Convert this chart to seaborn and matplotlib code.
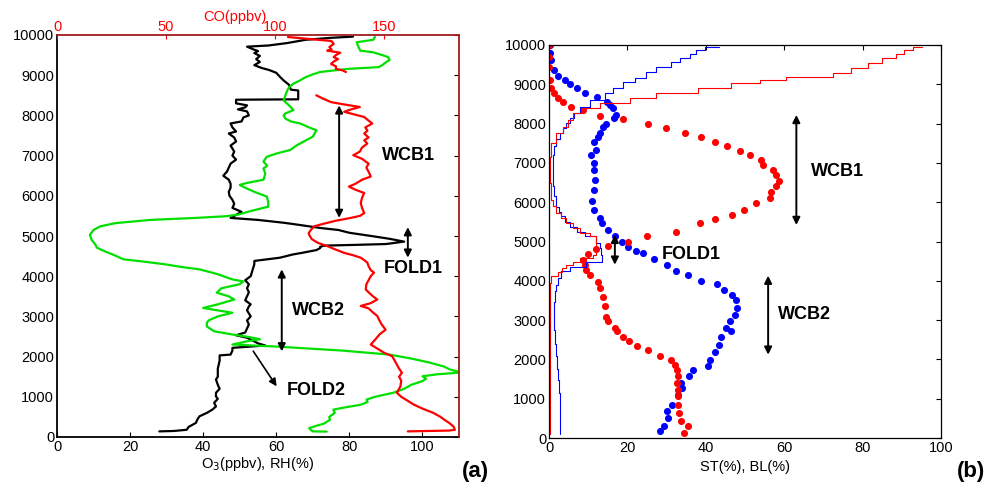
import numpy as np
import pandas as pd
import matplotlib
matplotlib.use("Agg")
import matplotlib.pyplot as plt
import seaborn as sns

sns.set_style("white")
plt.rcParams['font.family'] = ['Liberation Sans', 'DejaVu Sans']
plt.rcParams['xtick.direction'] = 'in'
plt.rcParams['ytick.direction'] = 'in'
plt.rcParams['text.color'] = 'black'
plt.rcParams['axes.labelcolor'] = 'black'
plt.rcParams['xtick.color'] = 'black'
plt.rcParams['ytick.color'] = 'black'

# ---------------- panel (a): O3, RH (bottom axis) and CO (top axis) ----------------
o3_alt = [9960, 9930, 9880, 9800, 9740, 9710, 9650, 9600, 9550, 9480, 9400, 9330, 9250, 9180,
          9130, 9060, 8960, 8870, 8760, 8640, 8620, 8400, 8390, 8300, 8250, 8200, 8150, 8100,
          8000, 7950, 7850, 7800, 7700, 7600, 7550, 7450, 7350, 7250, 7100, 7000, 6900, 6800,
          6700, 6600, 6500, 6400, 6300, 6200, 6100, 6000, 5900, 5800, 5700, 5600, 5500, 5450,
          5400, 5330, 5280, 5200, 5150, 5080, 5000, 4930, 4860, 4800, 4780, 4760, 4730, 4700,
          4650, 4580, 4540, 4460, 4420, 4380, 4300, 4150, 4000, 3900, 3800, 3700, 3600, 3500,
          3400, 3300, 3250, 3150, 3000, 2900, 2800, 2700, 2600, 2530, 2470, 2400, 2330, 2275,
          2250, 2218, 2150, 2050, 2030, 1900, 1700, 1500, 1430, 1300, 1200, 1100, 1010, 950,
          850, 760, 680, 600, 515, 450, 350, 250, 180, 150, 140]
o3_val = [81, 75, 68, 63, 58, 52, 53.5, 55, 54, 55.5, 54.5, 55.5, 54, 56,
          58, 60, 61, 62, 63.5, 64, 66, 66, 49, 49, 52, 51.5, 49.5, 52,
          52.5, 51, 50.5, 47.5, 48, 49, 47, 48.5, 49, 47.5, 48.5, 48, 49, 47.5,
          47, 46.5, 45.5, 47, 47.5, 47.5, 47, 47.2, 48, 48.5, 48, 50.5, 48.5, 47.5,
          55, 62, 66, 72, 77, 80, 86, 91, 95, 90, 82, 73, 72, 72,
          71, 67, 64.5, 61, 57.5, 54, 54, 53.5, 53, 51.5, 52.5, 52, 52.5, 52,
          51.5, 53, 52.5, 52, 53, 52, 52.5, 52, 51.5, 49, 52, 53.5, 55, 57,
          53, 48, 48, 47.5, 44.5, 44.5, 44, 44, 43.5, 44, 44.5, 43.5, 43.5, 44,
          43, 43.5, 42.5, 41, 39, 38.5, 38, 36, 35.5, 32, 28]

rh_alt = [9950, 9880, 9820, 9700, 9610, 9570, 9500, 9450, 9380, 9320, 9250, 9200, 9160, 9080,
          9020, 8950, 8870, 8790, 8700, 8620, 8500, 8370, 8250, 8130, 8050, 8000, 7920, 7850,
          7800, 7700, 7630, 7550, 7470, 7350, 7250, 7140, 7050, 6970, 6850, 6750, 6680, 6550,
          6400, 6320, 6270, 6200, 6100, 5980, 5850, 5730, 5620, 5530, 5490, 5450, 5400, 5320,
          5240, 5150, 5030, 4900, 4790, 4710, 4630, 4530, 4420, 4360, 4290, 4230, 4170, 4050,
          3920, 3870, 3800, 3700, 3590, 3500, 3420, 3300, 3210, 3150, 3090, 3000, 2900, 2840,
          2750, 2630, 2550, 2480, 2430, 2380, 2300, 2250, 2150, 2050, 1950, 1850, 1750, 1680,
          1620, 1600, 1560, 1510, 1450, 1390, 1300, 1200, 1100, 1000, 930, 870, 800, 740,
          680, 600, 500, 430, 330, 280, 220, 170, 140, 135]
rh_val = [87, 86.5, 82, 82.5, 83, 86.5, 89, 90.6, 91, 90, 89, 88, 80, 72,
          70, 68, 66.5, 64.7, 63.5, 63, 62.5, 62, 63.5, 64.7, 62.5, 62, 62.5, 64,
          66.5, 69, 71, 70.5, 70, 67.5, 65.5, 63.8, 60, 57.4, 56.5, 57.5, 56.5, 57,
          56.5, 52, 50, 51.5, 54, 57.4, 57.8, 57.8, 53, 49.5, 46, 38, 25.5, 16,
          11.8, 10, 9, 9.5, 10.5, 10.9, 12.8, 15.5, 18.2, 24, 30, 34, 39, 44,
          48, 51, 50, 45, 43.7, 47, 48.5, 44, 40, 44, 48, 44, 41.5, 41,
          41, 43, 48, 53, 55.5, 52, 48, 60, 78, 91, 97, 102, 106, 107.5,
          110, 110, 104, 100, 101, 100, 97, 95, 92, 87, 84.7, 85, 83, 79,
          75.6, 76, 74.5, 74.7, 73, 71, 69, 69.5, 70, 73.8]

co_alt_upper = [9950, 9920, 9880, 9850, 9780, 9700, 9640, 9610, 9560, 9500, 9450, 9400, 9340,
                9280, 9220, 9160, 9120, 9080]
co_val_upper = [106, 112, 120, 126, 127, 125, 126, 124, 130, 128, 127, 129, 127,
                125.8, 128, 128, 131, 132.6]
co_alt_lower = [8500, 8420, 8330, 8270, 8210, 8150, 8090, 8030, 7960, 7870, 7800, 7700, 7620,
                7550, 7450, 7380, 7300, 7200, 7100, 7010, 6920, 6800, 6700, 6600, 6480, 6400,
                6300, 6230, 6150, 6070, 5950, 5820, 5700, 5570, 5500, 5450, 5380, 5300, 5240,
                5150, 5070, 5000, 4920, 4830, 4750, 4660, 4580, 4520, 4460, 4400, 4340, 4250,
                4150, 4090, 4000, 3900, 3800, 3670, 3600, 3500, 3420, 3330, 3260, 3200, 3100,
                3010, 2900, 2800, 2670, 2550, 2420, 2300, 2200, 2100, 2010, 1900, 1800, 1700,
                1600, 1500, 1400, 1260, 1100, 1000, 900, 810, 700, 600, 500, 420, 350, 260,
                180, 160, 140]
co_val_lower = [119, 122, 125.8, 132, 139, 135, 131.8, 136, 141, 143, 144.7, 141.5, 142.5,
                141, 143, 141, 142.4, 140, 139, 136, 140, 143, 142, 143, 144, 140,
                137, 134, 137, 141, 140, 139.4, 140, 141, 139, 134.8, 128, 122, 118,
                116.5, 115.5, 116, 117, 119.7, 124, 128, 131.8, 136, 139.4, 141, 142.4, 143,
                144, 145.5, 144, 143, 142, 141.7, 143, 145, 147, 144, 139.4, 143, 145,
                147, 148, 149, 150.8, 148, 146, 144, 147, 150, 153.8, 155, 156, 157,
                158.3, 157, 158, 157.6, 156, 158, 161, 163.6, 168, 172.7, 176, 178, 180, 182,
                182.6, 180, 161]

# ---------------- panel (b): ST / BL percentages ----------------
blue_dot_alt = [10000, 9790, 9620, 9360, 9210, 9110, 9010, 8900, 8770, 8670, 8560, 8470, 8390,
                8220, 8140, 7990, 7920, 7750, 7670, 7520, 7330, 7200, 6990, 6820, 6570, 6310,
                6020, 5810, 5590, 5470, 5300, 5130, 5000, 4870, 4750, 4700, 4550, 4410, 4260,
                4140, 4000, 3920, 3770, 3640, 3520, 3300, 3140, 2970, 2800, 2710, 2580, 2370,
                2200, 1990, 1820, 1720, 1590, 1400, 1270, 1100, 850, 680, 510, 300, 170]
blue_dot_val = [0.2, 0.3, 0.6, 1.4, 2.3, 4, 5.4, 7.1, 9.1, 12.2, 14.8, 15.6, 16.3,
                17.2, 16.5, 14.6, 13.8, 12.9, 12.5, 11.6, 11.9, 10.8, 11.4, 11.6, 11.8, 11.6,
                11, 11.4, 12.9, 13.5, 15, 16.8, 18.5, 20.2, 22.3, 24, 26.7, 30.2, 32.3,
                35.5, 38.7, 42.9, 44.6, 46.7, 47.8, 48, 47.4, 46.3, 45.2, 46.5, 44, 43.4,
                42.3, 41, 40.6, 36.7, 35.7, 33.8, 34, 33, 31.5, 30.1, 30.4, 29.3, 28.2]

red_dot_alt = [10000, 9700, 9450, 9110, 8900, 8770, 8660, 8560, 8430, 8350, 8190, 8110, 7990,
               7880, 7770, 7670, 7540, 7430, 7310, 7200, 7080, 6950, 6820, 6690, 6530, 6400,
               6270, 6100, 5970, 5790, 5680, 5570, 5470, 5250, 5130, 5000, 4890, 4800, 4690,
               4530, 4410, 4280, 4150, 3980, 3810, 3600, 3350, 3090, 2970, 2800, 2710, 2580,
               2460, 2330, 2230, 2090, 1990, 1860, 1740, 1570, 1400, 1230, 1060, 850, 640,
               420, 300, 130]
red_dot_val = [0, 0, 0, 0.2, 0.6, 1.2, 2.3, 3.6, 5.7, 8.7, 12.9, 18.9, 25.3,
               29.9, 34.8, 38.9, 42.3, 45.4, 48.8, 51.2, 54.1, 54.6, 57.1, 57.8, 58.8, 57.8,
               56.7, 56.3, 52.9, 49.7, 46.8, 42.3, 38.6, 32.5, 25.1, 20.2, 15.1, 12.1, 9.9,
               8.7, 9.1, 9.5, 10.4, 12.5, 13.1, 13.8, 14.2, 14.6, 15.1, 16.8, 17.3, 18.9,
               20.4, 22.4, 25.3, 28.2, 31.2, 32.1, 32.7, 32.9, 32.7, 32.8, 32.9, 33, 33.2,
               33.6, 35.5, 34.4]

blue_step_alt = [9960, 9870, 9760, 9660, 9580, 9450, 9320, 9150, 9070, 8900, 8770, 8600, 8430,
                 8260, 8130, 8010, 7880, 7750, 7600, 7420, 7200, 6910, 6650, 6400, 6150, 5890,
                 5760, 5640, 5500, 5380, 5250, 5130, 4960, 4830, 4660, 4490, 4360, 4240, 4070,
                 3900, 3730, 3450, 3180, 2750, 2400, 2080, 1750, 1480, 1150, 810, 450, 110]
blue_step_val = [43.4, 39.7, 37.5, 35.9, 33.5, 31.2, 27.4, 24.8, 21.9, 18.9, 16.3, 14.2, 10.4,
                 7.8, 6.5, 5.3, 4.4, 3.6, 2.7, 1.9, 1.4, 1, 1, 1, 1.3, 1.9,
                 2.5, 3.1, 4.2, 5.3, 7.2, 9.1, 12.1, 12.9, 13.2, 13.4, 9.5, 5.3, 3.1,
                 2.4, 1.9, 1.5, 1.2, 1.4, 1.6, 1.9, 2.1, 2.3, 2.5, 2.7, 2.8, 2.9]

red_step_alt = [9960, 9870, 9760, 9660, 9530, 9410, 9300, 9190, 9110, 9030, 8900, 8770, 8640,
                8520, 8390, 8260, 8090, 7920, 7750, 7500, 7160, 6800, 6480, 6060, 5900, 5720,
                5600, 5470, 5340, 5210, 5130, 4960, 4830, 4660, 4580, 4490, 4400, 4320, 4220,
                4110, 3940, 3500, 3180, 2500, 1910, 1000, 110]
red_step_val = [95.2, 92.9, 90.5, 88.6, 85, 81.4, 77, 72.4, 60.5, 53.7, 46.5, 38, 27.4,
                20.6, 12.9, 8.7, 6.1, 4.8, 3.6, 1.9, 0.6, 0.3, 0.2, 0.5, 1, 1.9,
                3, 4.4, 6, 7.8, 10.4, 12.1, 12.1, 12.1, 11.2, 7.8, 6, 4.4, 3.3,
                2.3, 0.6, 0.3, 0.2, 0.2, 0.2, 0.2, 0.2]

DARK_RED = '#A01E1E'

fig = plt.figure(figsize=(9.91, 4.84), dpi=100)
ax_a = fig.add_axes([57 / 991, 47 / 484, 402 / 991, 402 / 484])
ax_b = fig.add_axes([549 / 991, 46 / 484, 392 / 991, 393 / 484])

# --- panel (a) ---
sns.lineplot(x=o3_val, y=o3_alt, sort=False, estimator=None, color='black', lw=1.6, ax=ax_a)
sns.lineplot(x=rh_val, y=rh_alt, sort=False, estimator=None, color='#00E000', lw=1.6, ax=ax_a)
ax_a.set_xlim(0, 110)
ax_a.set_ylim(0, 10000)
ax_a.set_xticks(range(0, 101, 20))
ax_a.set_yticks(range(0, 10001, 1000))
ax_a.tick_params(axis='both', labelsize=10.5, length=3.5, width=0.8, pad=2,
                 top=True, right=True)
for t in ax_a.yaxis.get_major_ticks():
    t.tick2line.set_color(DARK_RED)
ax_a.set_xlabel('O$_3$(ppbv), RH(%)', fontsize=10.5, labelpad=1)
ax_a.set_ylabel('')
for side in ['left', 'bottom']:
    ax_a.spines[side].set_linewidth(1.3)
    ax_a.spines[side].set_color('black')

ax_co = ax_a.twiny()
co_df = pd.DataFrame({
    'co': co_val_upper + co_val_lower,
    'alt': co_alt_upper + co_alt_lower,
    'seg': [0] * len(co_alt_upper) + [1] * len(co_alt_lower),
})
sns.lineplot(data=co_df, x='co', y='alt', units='seg', sort=False, estimator=None,
             color='red', lw=1.6, ax=ax_co)
ax_co.set_xlim(0, 184.5)
ax_co.set_ylim(0, 10000)
ax_co.set_xticks([0, 50, 100, 150])
ax_co.tick_params(axis='x', colors='red', labelcolor='red', labelsize=10.5,
                  length=3, width=0.8, pad=1)
ax_co.set_xlabel('CO(ppbv)', color='red', fontsize=10.5)
ax_co.xaxis.set_label_coords((235 - 57) / 402, 1.035)
ax_co.set_ylabel('')
for side in ['top', 'right']:
    ax_co.spines[side].set_color(DARK_RED)
    ax_co.spines[side].set_linewidth(1.3)
for side in ['left', 'bottom']:
    ax_co.spines[side].set_visible(False)
ax_a.spines['top'].set_visible(False)
ax_a.spines['right'].set_visible(False)

arrow2 = dict(arrowstyle='<|-|>', color='black', lw=1.4, mutation_scale=11,
              shrinkA=0, shrinkB=0)
arrow1 = dict(arrowstyle='-|>', color='black', lw=1.2, mutation_scale=11,
              shrinkA=0, shrinkB=0)
lbl = dict(fontsize=13, fontweight='bold', va='center', ha='left', color='black')

ax_a.annotate('', xy=(77.2, 5450), xytext=(77.2, 8250), arrowprops=arrow2)
ax_a.text(89.0, 7000, 'WCB1', **lbl)
ax_a.annotate('', xy=(96.0, 4460), xytext=(96.0, 5220), arrowprops=arrow2)
ax_a.text(89.3, 4190, 'FOLD1', **lbl)
ax_a.annotate('', xy=(61.5, 2130), xytext=(61.5, 4170), arrowprops=arrow2)
ax_a.text(64.2, 3150, 'WCB2', **lbl)
ax_a.annotate('', xy=(60.1, 1260), xytext=(53.7, 2135), arrowprops=arrow1)
ax_a.text(62.8, 1150, 'FOLD2', **lbl)

# --- panel (b) ---
sns.lineplot(x=blue_step_val, y=blue_step_alt, sort=False, estimator=None,
             drawstyle='steps-post', color='blue', lw=0.8, ax=ax_b)
sns.lineplot(x=red_step_val, y=red_step_alt, sort=False, estimator=None,
             drawstyle='steps-post', color='red', lw=0.8, ax=ax_b)
sns.scatterplot(x=blue_dot_val, y=blue_dot_alt, color='blue', marker='o', s=26,
                linewidth=0, ax=ax_b)
sns.scatterplot(x=red_dot_val, y=red_dot_alt, color='red', marker='o', s=26,
                linewidth=0, ax=ax_b)
ax_b.set_xlim(0, 100)
ax_b.set_ylim(0, 10000)
ax_b.set_xticks(range(0, 101, 20))
ax_b.set_yticks(range(0, 10001, 1000))
ax_b.tick_params(axis='both', labelsize=10.5, length=3.5, width=0.8, pad=2,
                 top=True, right=True)
ax_b.set_xlabel('ST(%), BL(%)', fontsize=10.5, labelpad=4)
for side in ax_b.spines:
    ax_b.spines[side].set_linewidth(0.9)
    ax_b.spines[side].set_color('black')

ax_b.annotate('', xy=(63.1, 5420), xytext=(63.1, 8220), arrowprops=arrow2)
ax_b.text(66.9, 6780, 'WCB1', **lbl)
ax_b.annotate('', xy=(16.8, 4410), xytext=(16.8, 5170), arrowprops=arrow2)
ax_b.text(28.7, 4660, 'FOLD1', **lbl)
ax_b.annotate('', xy=(55.9, 2120), xytext=(55.9, 4130), arrowprops=arrow2)
ax_b.text(58.4, 3140, 'WCB2', **lbl)

fig.text(462 / 991, 1 - 471 / 484, '(a)', fontsize=16, fontweight='bold', va='center', ha='left')
fig.text(957 / 991, 1 - 471 / 484, '(b)', fontsize=16, fontweight='bold', va='center', ha='left')

fig.savefig('out.png', dpi=100)
